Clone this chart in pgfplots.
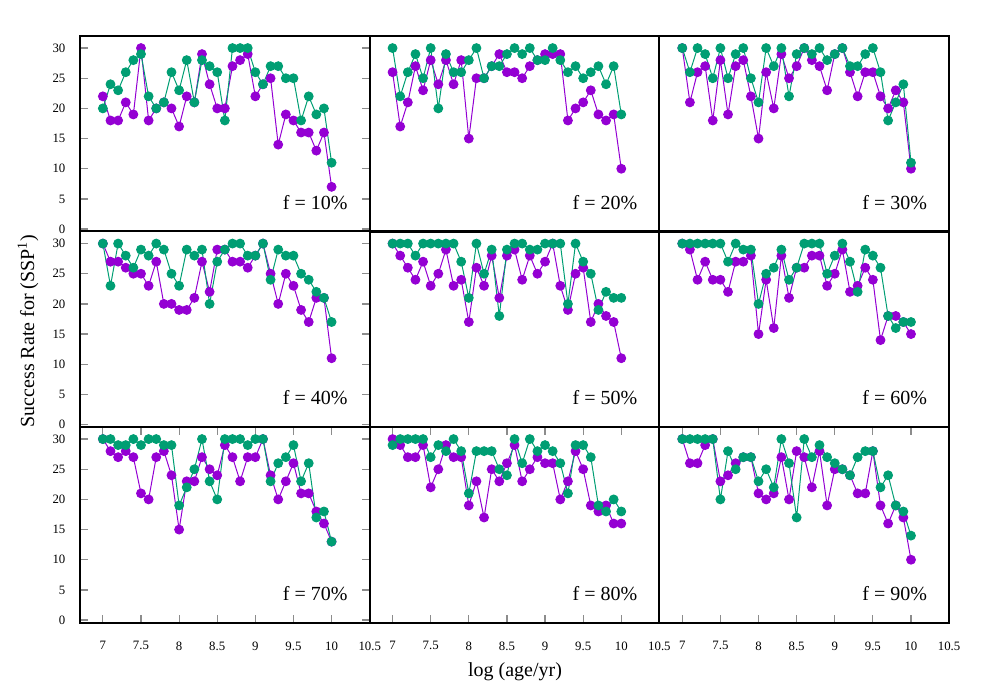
\documentclass[border=0pt]{standalone}
\usepackage{pgfplots}
\usepackage{pgfplotstable}
\pgfplotsset{compat=1.18}
\usepackage{fontspec}
\setmainfont{Liberation Serif}
\definecolor{cPurple}{HTML}{9400D3}
\definecolor{cGreen}{HTML}{009E73}

% columns: x, p (purple), g (green)
\pgfplotstableread{
x p g
7.0 22 20
7.1 18 24
7.2 18 23
7.3 21 26
7.4 19 28
7.5 30 29
7.6 18 22
7.7 20 20
7.8 21 21
7.9 20 26
8.0 17 23
8.1 22 28
8.2 21 21
8.3 29 28
8.4 24 27
8.5 20 26
8.6 20 18
8.7 27 30
8.8 28 30
8.9 29 30
9.0 22 26
9.1 24 24
9.2 25 27
9.3 14 27
9.4 19 25
9.5 18 25
9.6 16 18
9.7 16 22
9.8 13 19
9.9 16 20
10.0 7 11
}\tA
\pgfplotstableread{
x p g
7.0 26 30
7.1 17 22
7.2 21 26
7.3 27 29
7.4 23 25
7.5 28 30
7.6 24 20
7.7 28 29
7.8 24 26
7.9 28 26
8.0 15 28
8.1 25 30
8.2 25 25
8.3 27 27
8.4 29 27
8.5 26 29
8.6 26 30
8.7 25 29
8.8 27 30
8.9 28 28
9.0 29 28
9.1 29 30
9.2 29 28
9.3 18 26
9.4 20 27
9.5 21 25
9.6 23 26
9.7 19 27
9.8 18 24
9.9 19 27
10.0 10 19
}\tB
\pgfplotstableread{
x p g
7.0 30 30
7.1 21 26
7.2 26 30
7.3 27 29
7.4 18 25
7.5 28 30
7.6 19 25
7.7 27 29
7.8 28 30
7.9 22 25
8.0 15 21
8.1 26 30
8.2 20 27
8.3 29 30
8.4 25 22
8.5 27 29
8.6 30 30
8.7 28 29
8.8 27 30
8.9 23 28
9.0 29 29
9.1 30 30
9.2 26 27
9.3 22 27
9.4 26 29
9.5 26 30
9.6 22 26
9.7 20 18
9.8 23 21
9.9 21 24
10.0 10 11
}\tC
\pgfplotstableread{
x p g
7.0 30 30
7.1 27 23
7.2 27 30
7.3 26 28
7.4 25 26
7.5 25 29
7.6 23 28
7.7 27 30
7.8 20 29
7.9 20 25
8.0 19 23
8.1 19 29
8.2 21 28
8.3 27 29
8.4 22 20
8.5 29 27
8.6 29 29
8.7 27 30
8.8 27 30
8.9 26 28
9.0 28 28
9.1 30 30
9.2 25 24
9.3 20 29
9.4 25 28
9.5 23 28
9.6 19 25
9.7 17 24
9.8 21 22
9.9 21 21
10.0 11 17
}\tD
\pgfplotstableread{
x p g
7.0 30 30
7.1 28 30
7.2 26 30
7.3 24 28
7.4 27 30
7.5 23 30
7.6 25 30
7.7 29 30
7.8 23 30
7.9 24 27
8.0 17 21
8.1 26 30
8.2 23 25
8.3 28 29
8.4 21 18
8.5 28 29
8.6 29 30
8.7 24 30
8.8 28 29
8.9 25 29
9.0 27 30
9.1 30 30
9.2 23 30
9.3 19 20
9.4 25 30
9.5 26 27
9.6 17 25
9.7 20 19
9.8 18 22
9.9 17 21
10.0 11 21
}\tE
\pgfplotstableread{
x p g
7.0 30 30
7.1 29 30
7.2 24 30
7.3 27 30
7.4 24 30
7.5 24 30
7.6 22 27
7.7 27 30
7.8 27 29
7.9 28 29
8.0 15 20
8.1 24 25
8.2 16 26
8.3 28 29
8.4 21 24
8.5 26 26
8.6 26 30
8.7 28 30
8.8 28 30
8.9 23 25
9.0 25 28
9.1 29 30
9.2 22 27
9.3 23 22
9.4 26 29
9.5 24 28
9.6 14 26
9.7 18 18
9.8 18 16
9.9 17 17
10.0 15 17
}\tF
\pgfplotstableread{
x p g
7.0 30 30
7.1 28 30
7.2 27 29
7.3 28 29
7.4 27 30
7.5 21 29
7.6 20 30
7.7 27 30
7.8 28 29
7.9 24 29
8.0 15 19
8.1 23 22
8.2 23 25
8.3 27 30
8.4 25 23
8.5 24 20
8.6 29 30
8.7 27 30
8.8 23 30
8.9 27 29
9.0 27 30
9.1 30 30
9.2 24 23
9.3 20 26
9.4 23 27
9.5 26 29
9.6 21 23
9.7 21 26
9.8 18 17
9.9 16 18
10.0 13 13
}\tG
\pgfplotstableread{
x p g
7.0 30 29
7.1 29 30
7.2 27 30
7.3 27 30
7.4 29 30
7.5 22 27
7.6 25 29
7.7 29 28
7.8 27 30
7.9 27 28
8.0 19 21
8.1 23 28
8.2 17 28
8.3 25 28
8.4 23 25
8.5 26 24
8.6 29 30
8.7 23 26
8.8 25 30
8.9 27 28
9.0 26 29
9.1 26 28
9.2 20 26
9.3 23 21
9.4 28 29
9.5 25 29
9.6 19 27
9.7 18 19
9.8 19 18
9.9 16 20
10.0 16 18
}\tH
\pgfplotstableread{
x p g
7.0 30 30
7.1 26 30
7.2 26 30
7.3 29 30
7.4 30 30
7.5 23 20
7.6 24 28
7.7 26 25
7.8 27 27
7.9 27 27
8.0 21 23
8.1 20 25
8.2 21 22
8.3 27 30
8.4 20 26
8.5 28 17
8.6 27 30
8.7 22 27
8.8 28 29
8.9 19 27
9.0 25 26
9.1 25 25
9.2 24 24
9.3 21 27
9.4 21 28
9.5 28 28
9.6 19 22
9.7 16 24
9.8 19 19
9.9 17 18
10.0 10 14
}\tI

\tikzset{flab/.style={anchor=base east, inner sep=0pt, font=\fontsize{10}{12}\selectfont}}
\pgfplotsset{
  panel/.style={
    scale only axis, width=144.85pt, height=97.75pt,
    anchor=north west,
    xmin=6.7, xmax=10.5, ymin=-0.4, ymax=32,
    axis line style={line width=1pt, black},
    tick style={black!45, line width=0.6pt},
    major tick length=4pt,
    tick align=inside,
    xtick=\empty, ytick=\empty,
    ticklabel style={font=\fontsize{6.4}{7}\selectfont},
    clip=false,
  },
  xlab/.style={
    xtick={7,7.5,8,8.5,9,9.5,10,10.5},
    xticklabels={7,7.5,8,8.5,9,9.5,10,10.5},
    xticklabel style={yshift=-6pt},
  },
  ylab/.style={
    ytick={0,5,10,15,20,25,30},
    yticklabels={0,5,10,15,20,25,30},
    yticklabel style={xshift=-3.8pt},
  },
  purp/.style={color=cPurple, line width=0.5pt, mark=*, mark size=2.2pt},
  gren/.style={color=cGreen, line width=0.5pt, mark=*, mark size=2.2pt},
}

\newcommand{\panel}[5]{%
  \begin{axis}[panel, at={(#1,#2)}, #5]
    \addplot[purp] table[x=x, y=p] {#3};
    \addplot[gren] table[x=x, y=g] {#3};
    \node[flab] at (rel axis cs:0.925,0.113) {f = #4\%};
  \end{axis}}

\begin{document}
\begin{tikzpicture}
  \useasboundingbox (0pt,0pt) rectangle (500pt,-350pt);
  \panel{40pt}{-18pt}{\tA}{10}{ylab}
  \panel{184.85pt}{-18pt}{\tB}{20}{}
  \panel{329.7pt}{-18pt}{\tC}{30}{}
  \panel{40pt}{-115.75pt}{\tD}{40}{ylab}
  \panel{184.85pt}{-115.75pt}{\tE}{50}{}
  \panel{329.7pt}{-115.75pt}{\tF}{60}{}
  \panel{40pt}{-213.5pt}{\tG}{70}{ylab,xlab}
  \panel{184.85pt}{-213.5pt}{\tH}{80}{xlab}
  \panel{329.7pt}{-213.5pt}{\tI}{90}{xlab}
  \node[rotate=90, font=\fontsize{10}{12}\selectfont] at (14pt,-165.5pt) {Success Rate for (SSP\textsuperscript{1})};
  \node[font=\fontsize{10}{12}\selectfont] at (257.5pt,-336pt) {log (age/yr)};
\end{tikzpicture}
\end{document}
